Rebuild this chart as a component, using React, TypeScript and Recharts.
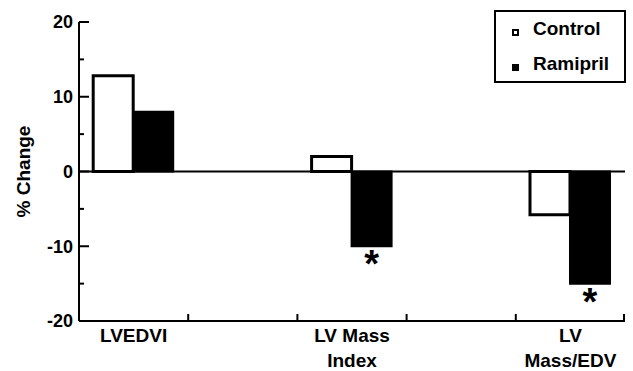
import React from 'react';
import { BarChart, Bar, XAxis, YAxis, ReferenceLine, Legend, LabelList, Label } from 'recharts';

const categories = ['LVEDVI', 'gap1', 'LV Mass Index', 'gap2', 'LV Mass/EDV'];
const tickLabels: string[][] = [['LVEDVI'], [], ['LV Mass', 'Index'], [], ['LV', 'Mass/EDV']];
const controlValues: (number | null)[] = [12.8, null, 2, null, -5.8];
const ramiprilValues: (number | null)[] = [8, null, -10, null, -15];
const significant = [false, false, true, false, true];
const yTicks = [-20, -15, -10, -5, 0, 5, 10, 15, 20];
const yLabeled = [-20, -10, 0, 10, 20];
const seriesNames = ['Control', 'Ramipril'];

const data = categories.map((c, i) => ({
  category: c,
  control: controlValues[i],
  ramipril: ramiprilValues[i],
  sig: significant[i],
}));

const CHART_W = 633;
const CHART_H = 371;
const Y_AXIS_W = 79;
const MARGIN = { top: 22, right: 8, bottom: 0, left: 0 };
const HALF_BAND = (CHART_W - Y_AXIS_W - MARGIN.right - MARGIN.left) / categories.length / 2;
const FONT = '"Liberation Sans", Arial, Helvetica, sans-serif';

function XTick(props: any) {
  const { x, y, index } = props;
  const lines = tickLabels[index] || [];
  return (
    <g>
      <line x1={x - HALF_BAND} x2={x - HALF_BAND} y1={y} y2={y - 7} stroke="#000" strokeWidth={2} />
      {index === categories.length - 1 && (
        <line x1={x + HALF_BAND - 1} x2={x + HALF_BAND - 1} y1={y} y2={y - 7} stroke="#000" strokeWidth={2} />
      )}
      <text x={x} y={y + 21} textAnchor="middle" fontFamily={FONT} fontWeight="bold" fontSize={19} fill="#000">
        {lines.map((l, i) => (
          <tspan key={i} x={x} dy={i === 0 ? 0 : 25}>
            {l}
          </tspan>
        ))}
      </text>
    </g>
  );
}

function YTick(props: any) {
  const { x, y, payload } = props;
  const v = payload.value;
  const major = yLabeled.includes(v);
  const ax = x + 6;
  return (
    <g>
      <line x1={ax} x2={ax + (major ? 10 : 5)} y1={y} y2={y} stroke="#000" strokeWidth={2} />
      {major && (
        <text x={x} y={y} dy="0.36em" textAnchor="end" fontFamily={FONT} fontWeight="bold" fontSize={18} fill="#000">
          {v}
        </text>
      )}
    </g>
  );
}

function AsteriskLabel(props: any) {
  const { x, y, width, height, value } = props;
  if (!value) return null;
  const bottom = Math.max(y, y + height);
  return (
    <text x={x + width / 2} y={bottom + 31} textAnchor="middle" fontFamily={FONT} fontWeight="bold" fontSize={38} fill="#000">
      *
    </text>
  );
}

function YLabel(props: any) {
  const vb = props.viewBox || { x: 0, y: 22, width: 79, height: 299 };
  const cx = vb.x + 30;
  const cy = vb.y + vb.height / 2;
  return (
    <text
      x={cx}
      y={cy}
      textAnchor="middle"
      transform={`rotate(-90, ${cx}, ${cy})`}
      fontFamily={FONT}
      fontWeight="bold"
      fontSize={19}
      fill="#000"
    >
      % Change
    </text>
  );
}

function LegendBox(props: any) {
  const payload = props.payload || [];
  return (
    <div
      style={{
        position: 'relative',
        width: 132,
        height: 73,
        boxSizing: 'border-box',
        border: '2px solid #000',
        background: '#fff',
        fontFamily: FONT,
        fontWeight: 'bold',
        fontSize: 19,
        color: '#000',
      }}
    >
      {payload.map((p: any, i: number) => (
        <div key={i} style={{ position: 'absolute', left: 0, top: i === 0 ? 5 : 40, height: 24, width: '100%' }}>
          <span
            style={{
              position: 'absolute',
              left: 16,
              top: 12,
              width: 7,
              height: 7,
              boxSizing: 'border-box',
              border: '2px solid #000',
              background: i === 0 ? '#fff' : '#000',
            }}
          />
          <span style={{ position: 'absolute', left: 37, top: 0, lineHeight: '24px', whiteSpace: 'nowrap' }}>
            {p.value}
          </span>
        </div>
      ))}
    </div>
  );
}

export default function App() {
  return (
    <div style={{ width: CHART_W, height: CHART_H, background: '#fff' }}>
      <style>{`body{margin:0;background:#fff;}`}</style>
      <BarChart width={CHART_W} height={CHART_H} data={data} margin={MARGIN} barCategoryGap="13%" barGap={0}>
        <XAxis
          dataKey="category"
          height={50}
          interval={0}
          tickSize={0}
          tickMargin={0}
          tickLine={false}
          axisLine={{ stroke: '#000', strokeWidth: 2 }}
          tick={<XTick />}
        />
        <YAxis
          width={Y_AXIS_W}
          domain={[-20, 20]}
          ticks={yTicks}
          interval={0}
          tickSize={0}
          tickMargin={6}
          tickLine={false}
          axisLine={{ stroke: '#000', strokeWidth: 2 }}
          tick={<YTick />}
          allowDataOverflow
        >
          <Label content={<YLabel />} />
        </YAxis>
        <Legend
          layout="horizontal"
          verticalAlign="middle"
          align="center"
          content={<LegendBox />}
          wrapperStyle={{ position: 'absolute', top: 10, left: 494, width: 132, height: 73 }}
        />
        <ReferenceLine y={0} stroke="#000" strokeWidth={2} />
        <Bar dataKey="control" name={seriesNames[0]} fill="#fff" stroke="#000" strokeWidth={3} isAnimationActive={false} />
        <Bar dataKey="ramipril" name={seriesNames[1]} fill="#000" stroke="#000" strokeWidth={2} isAnimationActive={false}>
          <LabelList dataKey="sig" content={<AsteriskLabel />} />
        </Bar>
      </BarChart>
    </div>
  );
}
